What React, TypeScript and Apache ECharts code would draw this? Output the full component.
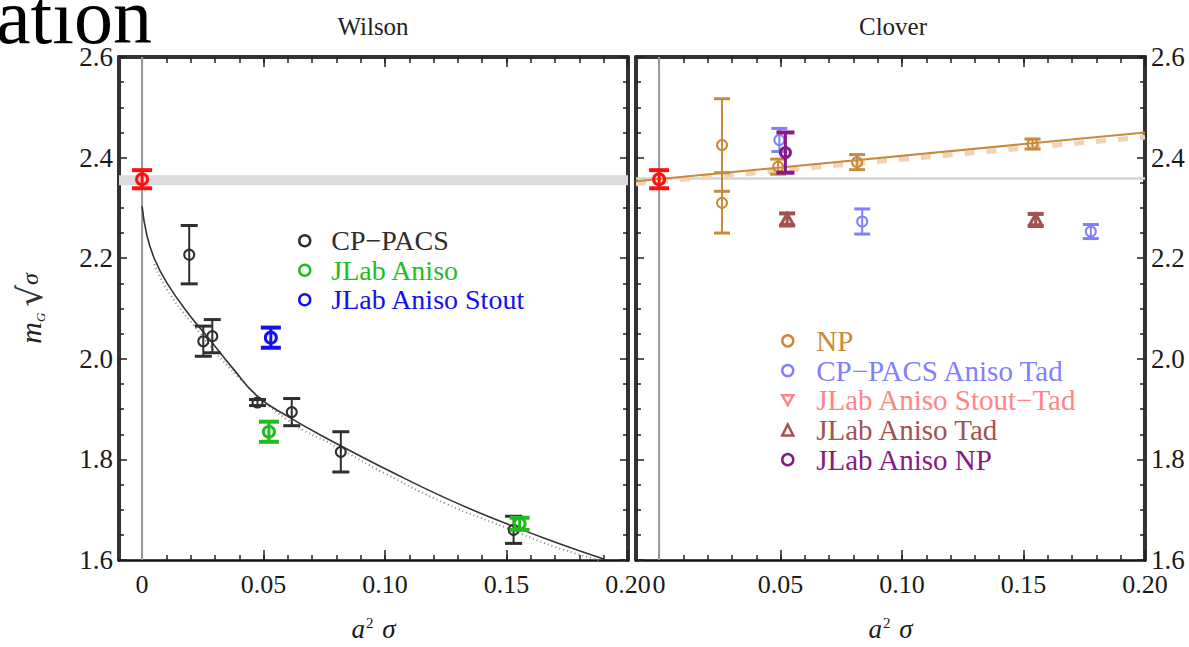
import React, { useEffect, useRef } from "react";
import * as echarts from "echarts";

const SERIF = '"Liberation Serif", "Times New Roman", serif';

// Axis ticks and labels
const X_MIN = -0.0095;
const X_MAX = 0.2;
const X_TICKS = [0, 0.05, 0.1, 0.15, 0.2];
const X_TICK_LABELS = ["0", "0.05", "0.10", "0.15", "0.20"];
const X_MINOR_TICKS = [
  0, 0.01, 0.02, 0.03, 0.04, 0.05, 0.06, 0.07, 0.08, 0.09, 0.1,
  0.11, 0.12, 0.13, 0.14, 0.15, 0.16, 0.17, 0.18, 0.19, 0.2,
];
const Y_MIN = 1.6;
const Y_MAX = 2.6;
const Y_STEP = 0.2;
const ZERO_LINE = [[0, Y_MIN], [0, Y_MAX]];

// Wilson action: [a²σ, m/√σ, error]
const wilsonContinuum = [[0, 2.357, 0.018]];
const cpPacs = [
  [0.0194, 2.207, 0.058],
  [0.0252, 2.035, 0.03],
  [0.0289, 2.045, 0.033],
  [0.0475, 1.913, 0.006],
  [0.0616, 1.894, 0.027],
  [0.0818, 1.815, 0.04],
  [0.1529, 1.66, 0.027],
];
const jlabAniso = [
  [0.0522, 1.855, 0.02],
  [0.1554, 1.672, 0.012],
];
const jlabAnisoStout = [[0.053, 2.042, 0.02]];
const wilsonBand = [2.345, 2.365];
const wilsonFit = [
  [0, 2.303], [0.002, 2.245], [0.005, 2.2], [0.0102, 2.151], [0.0198, 2.085],
  [0.0267, 2.045], [0.0377, 1.979], [0.0474, 1.926], [0.0598, 1.886],
  [0.079, 1.834], [0.1011, 1.779], [0.1259, 1.721], [0.1496, 1.673],
  [0.1698, 1.636], [0.19, 1.602],
];
const wilsonFitLower = [
  [0.005, 2.188], [0.01, 2.14], [0.02, 2.074], [0.04, 1.962], [0.06, 1.878],
  [0.08, 1.825], [0.1, 1.772], [0.125, 1.712], [0.15, 1.664], [0.17, 1.626],
  [0.188, 1.6],
];

// Clover action: [a²σ, m/√σ, error]
const cloverContinuum = [[0, 2.357, 0.018]];
const np = [
  [0.0259, 2.425, 0.092],
  [0.0259, 2.31, 0.06],
  [0.049, 2.382, 0.015],
  [0.0815, 2.391, 0.015],
  [0.1537, 2.427, 0.01],
];
const cpPacsAnisoTad = [
  [0.0495, 2.435, 0.023],
  [0.0836, 2.273, 0.025],
  [0.1777, 2.253, 0.014],
];
const jlabAnisoStoutTad: number[][] = [];
const jlabAnisoTad = [
  [0.0527, 2.277, 0.012],
  [0.155, 2.276, 0.012],
];
const jlabAnisoNp = [[0.052, 2.41, 0.04]];
const cloverLine = [2.356, 2.361];
const cloverFit = [[X_MIN, 2.353], [X_MAX, 2.45]];
const cloverFitBand = [[X_MIN, 2.348], [X_MAX, 2.441]];

type Marker = "circle" | "up" | "down";
interface ErrStyle {
  color: string;
  lw: number;
  capLw: number;
  cap: number;
  r: number;
  marker: Marker;
}

function errorBarRenderer(s: ErrStyle) {
  return (_params: any, api: any) => {
    const x = api.value(0);
    const y = api.value(1);
    const e = api.value(2);
    const c = api.coord([x, y]);
    const t = api.coord([x, y + e]);
    const b = api.coord([x, y - e]);
    const hw = s.cap / 2;
    const line = { stroke: s.color, lineWidth: s.lw, fill: null };
    const cap = { stroke: s.color, lineWidth: s.capLw, fill: null };
    const children: any[] = [
      { type: "line", shape: { x1: c[0], y1: t[1], x2: c[0], y2: b[1] }, style: line },
      { type: "line", shape: { x1: c[0] - hw, y1: t[1], x2: c[0] + hw, y2: t[1] }, style: cap },
      { type: "line", shape: { x1: c[0] - hw, y1: b[1], x2: c[0] + hw, y2: b[1] }, style: cap },
    ];
    const mk = { stroke: s.color, lineWidth: s.lw, fill: "rgba(255,255,255,0)" };
    if (s.marker === "circle") {
      children.push({ type: "circle", shape: { cx: c[0], cy: c[1], r: s.r }, style: mk });
    } else if (s.marker === "up") {
      children.push({
        type: "polygon",
        shape: { points: [[c[0], c[1] - s.r], [c[0] + s.r, c[1] + s.r * 0.8], [c[0] - s.r, c[1] + s.r * 0.8]] },
        style: mk,
      });
    } else {
      children.push({
        type: "polygon",
        shape: { points: [[c[0], c[1] + s.r], [c[0] + s.r, c[1] - s.r * 0.8], [c[0] - s.r, c[1] - s.r * 0.8]] },
        style: mk,
      });
    }
    return { type: "group", children };
  };
}

function pointSeries(name: string, data: number[][], s: ErrStyle, xi: number, yi: number, z = 5) {
  return {
    type: "custom",
    name,
    xAxisIndex: xi,
    yAxisIndex: yi,
    data,
    encode: { x: 0, y: 1 },
    itemStyle: { color: s.color },
    renderItem: errorBarRenderer(s),
    clip: true,
    z,
  };
}

const tickLine = { color: "#222", width: 1.5 };
const tickLabel = {
  fontFamily: SERIF,
  fontSize: 27,
  color: "#1a1a1a",
};

function xAxes(grid: number) {
  const base = { type: "value", gridIndex: grid, min: X_MIN, max: X_MAX, splitLine: { show: false } };
  return [
    {
      ...base,
      position: "bottom",
      axisLine: { show: true, onZero: false, lineStyle: { color: "#111", width: 2.5 } },
      axisTick: { show: true, inside: true, length: 10, customValues: X_TICKS, lineStyle: tickLine },
      axisLabel: {
        show: true,
        customValues: X_TICKS,
        margin: 11,
        ...tickLabel,
        fontSize: 26,
        formatter: (v: number) => X_TICK_LABELS[X_TICKS.findIndex((t) => Math.abs(t - v) < 1e-6)] ?? "",
      },
      name: "{i|a}{s|2}{i| σ}",
      nameLocation: "middle",
      nameGap: 55,
      nameTextStyle: {
        rich: {
          i: { fontFamily: SERIF, fontStyle: "italic", fontSize: 27, color: "#1a1a1a" },
          s: { fontFamily: SERIF, fontSize: 15, color: "#1a1a1a", verticalAlign: "top", padding: [0, 2, 12, 1] },
        },
      },
    },
    {
      ...base,
      position: "bottom",
      axisLine: { show: false, onZero: false },
      axisTick: { show: true, inside: true, length: 5, customValues: X_MINOR_TICKS, lineStyle: tickLine },
      axisLabel: { show: false },
    },
    {
      ...base,
      position: "top",
      axisLine: { show: true, onZero: false, lineStyle: { color: "#333", width: 4 } },
      axisTick: { show: true, inside: true, length: 10, customValues: X_TICKS, lineStyle: tickLine },
      axisLabel: { show: false },
    },
    {
      ...base,
      position: "top",
      axisLine: { show: false, onZero: false },
      axisTick: { show: true, inside: true, length: 6, customValues: X_MINOR_TICKS, lineStyle: tickLine },
      axisLabel: { show: false },
    },
  ];
}

function yAxis(grid: number, position: "left" | "right", labels: boolean, extra: any = {}) {
  return {
    type: "value",
    gridIndex: grid,
    position,
    min: Y_MIN,
    max: Y_MAX,
    interval: Y_STEP,
    splitLine: { show: false },
    axisLine: { show: true, onZero: false, lineStyle: { color: "#333", width: 4 } },
    axisTick: { show: true, inside: true, length: 8, lineStyle: tickLine },
    minorTick: { show: true, splitNumber: 4, length: 5, lineStyle: tickLine },
    axisLabel: {
      show: labels,
      margin: 6,
      ...tickLabel,
      formatter: (v: number) => v.toFixed(1),
    },
    ...extra,
  };
}

const C = {
  black: "#2e2e2e",
  green: "#1ebd1e",
  blue: "#1010f0",
  red: "#ff1010",
  np: "#c98a3c",
  cpTad: "#7f7fff",
  stoutTad: "#ff8585",
  tad: "#a35252",
  jnp: "#861a86",
};

function legendItem(name: string, color: string, icon: string) {
  return {
    name,
    icon,
    itemStyle: { color: "#fff", borderColor: color, borderWidth: 2.5 },
    textStyle: { color },
  };
}

const DOWN_TRI = "path://M0,0L10,0L5,9Z";

function zeroLine(xi: number, yi: number) {
  return {
    type: "line",
    name: "zero",
    xAxisIndex: xi,
    yAxisIndex: yi,
    data: ZERO_LINE,
    symbol: "none",
    lineStyle: { color: "#9a9a9a", width: 2 },
    z: 1,
  };
}

export default function App() {
  const ref = useRef<HTMLDivElement>(null);

  useEffect(() => {
    if (!ref.current) return;
    const chart = echarts.init(ref.current, undefined, { renderer: "svg" });

    const bold = (color: string): ErrStyle => ({ color, lw: 3, capLw: 4, cap: 20, r: 5.5, marker: "circle" });
    const thin = (color: string): ErrStyle => ({ color, lw: 2, capLw: 3, cap: 16, r: 5, marker: "circle" });

    const option: any = {
      animation: false,
      backgroundColor: "#ffffff",
      grid: [
        { left: 119, top: 57, width: 509, height: 504 },
        { left: 636, top: 57, width: 509, height: 504 },
      ],
      xAxis: [...xAxes(0), ...xAxes(1)],
      yAxis: [
        yAxis(0, "left", true, {
          name: "{m|m}{s|G}{r|√}{o|σ}",
          nameLocation: "middle",
          nameGap: 72,
          nameRotate: 90,
          nameTextStyle: {
            rich: {
              m: { fontFamily: SERIF, fontStyle: "italic", fontSize: 30, color: "#222" },
              s: { fontFamily: SERIF, fontStyle: "italic", fontSize: 13, color: "#222", verticalAlign: "bottom", padding: [10, 6, 0, 0] },
              r: { fontFamily: "DejaVu Sans", fontSize: 34, color: "#333" },
              o: { fontFamily: SERIF, fontStyle: "italic", fontSize: 24, color: "#222" },
            },
          },
        }),
        yAxis(0, "right", false),
        yAxis(1, "left", false),
        yAxis(1, "right", true),
      ],
      legend: [
        {
          left: 293,
          top: 221,
          orient: "vertical",
          selectedMode: false,
          itemWidth: 11,
          itemHeight: 11,
          itemGap: 0,
          textStyle: { fontFamily: SERIF, fontSize: 28, lineHeight: 29.5, padding: [0, 0, 0, 16] },
          data: [
            legendItem("CP−PACS", C.black, "circle"),
            legendItem("JLab Aniso", C.green, "circle"),
            legendItem("JLab Aniso Stout", C.blue, "circle"),
          ],
        },
        {
          left: 776,
          top: 321,
          orient: "vertical",
          selectedMode: false,
          itemWidth: 11,
          itemHeight: 11,
          itemGap: 0,
          textStyle: { fontFamily: SERIF, fontSize: 29, lineHeight: 29.7, padding: [0, 0, 0, 18] },
          data: [
            legendItem("NP", C.np, "circle"),
            legendItem("CP−PACS Aniso Tad", C.cpTad, "circle"),
            legendItem("JLab Aniso Stout−Tad", C.stoutTad, DOWN_TRI),
            legendItem("JLab Aniso Tad", C.tad, "triangle"),
            legendItem("JLab Aniso NP", C.jnp, "circle"),
          ],
        },
      ],
      graphic: [
        {
          type: "text",
          left: -4,
          top: -23,
          silent: true,
          style: { text: "ation", font: `78px ${SERIF}`, fill: "#000" },
        },
        {
          type: "text",
          x: 373,
          y: 26,
          silent: true,
          style: { text: "Wilson", font: `25px ${SERIF}`, fill: "#222", align: "center", verticalAlign: "middle" },
        },
        {
          type: "text",
          x: 893,
          y: 26,
          silent: true,
          style: { text: "Clover", font: `25px ${SERIF}`, fill: "#222", align: "center", verticalAlign: "middle" },
        },
      ],
      series: [
        // Wilson panel
        zeroLine(0, 0),
        {
          type: "line",
          name: "wilsonFitLower",
          xAxisIndex: 0,
          yAxisIndex: 0,
          data: wilsonFitLower,
          smooth: true,
          symbol: "none",
          lineStyle: { color: "#888", width: 2, type: [1, 3] },
          z: 2,
        },
        {
          type: "line",
          name: "wilsonFit",
          xAxisIndex: 0,
          yAxisIndex: 0,
          data: wilsonFit,
          smooth: true,
          symbol: "none",
          lineStyle: { color: "#333", width: 1.6 },
          z: 3,
          markArea: {
            silent: true,
            itemStyle: { color: "#dcdcdc" },
            data: [[{ yAxis: wilsonBand[0] }, { yAxis: wilsonBand[1] }]],
          },
        },
        pointSeries("CP−PACS", cpPacs, { ...thin(C.black), cap: 17 }, 0, 0),
        pointSeries("JLab Aniso", jlabAniso, bold(C.green), 0, 0, 6),
        pointSeries("JLab Aniso Stout", jlabAnisoStout, bold(C.blue), 0, 0, 6),
        pointSeries("wilsonContinuum", wilsonContinuum, bold(C.red), 0, 0, 7),

        // Clover panel
        zeroLine(4, 2),
        {
          type: "line",
          name: "cloverFitBand",
          xAxisIndex: 4,
          yAxisIndex: 2,
          data: cloverFitBand,
          symbol: "none",
          lineStyle: { color: "#f1d3b3", width: 5, type: [10, 12] },
          z: 2,
        },
        {
          type: "line",
          name: "cloverFit",
          xAxisIndex: 4,
          yAxisIndex: 2,
          data: cloverFit,
          symbol: "none",
          lineStyle: { color: "#c98a3c", width: 2 },
          z: 3,
          markArea: {
            silent: true,
            itemStyle: { color: "#d4d4d4" },
            data: [[{ yAxis: cloverLine[0] }, { yAxis: cloverLine[1] }]],
          },
        },
        pointSeries("NP", np, thin(C.np), 4, 2),
        pointSeries("CP−PACS Aniso Tad", cpPacsAnisoTad, thin(C.cpTad), 4, 2),
        pointSeries("JLab Aniso Stout−Tad", jlabAnisoStoutTad, { color: C.stoutTad, lw: 2.5, capLw: 3, cap: 16, r: 6, marker: "down" }, 4, 2),
        pointSeries("JLab Aniso Tad", jlabAnisoTad, { color: C.tad, lw: 3, capLw: 4, cap: 16, r: 6, marker: "up" }, 4, 2, 6),
        pointSeries("JLab Aniso NP", jlabAnisoNp, { color: C.jnp, lw: 3, capLw: 4, cap: 18, r: 5, marker: "circle" }, 4, 2, 7),
        pointSeries("cloverContinuum", cloverContinuum, bold(C.red), 4, 2, 7),
      ],
    };

    chart.setOption(option);
    return () => chart.dispose();
  }, []);

  return (
    <div
      ref={ref}
      style={{ position: "fixed", left: 0, top: 0, width: 1189, height: 647, background: "#fff" }}
    />
  );
}
